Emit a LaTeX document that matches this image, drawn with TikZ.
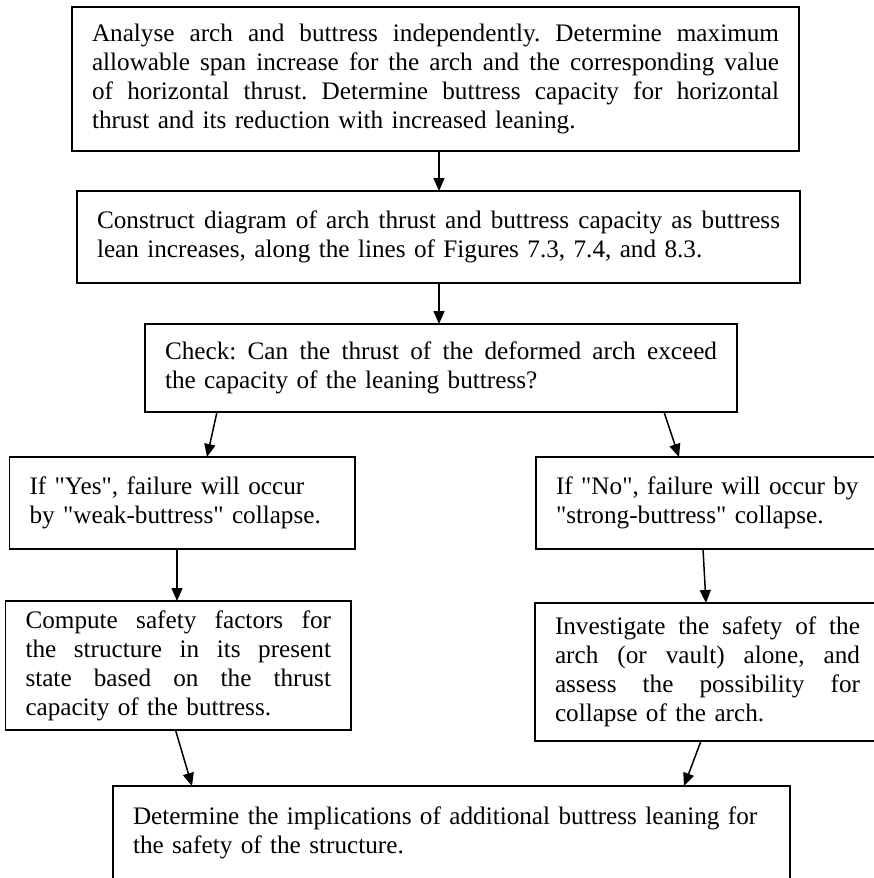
\documentclass[tikz,border=0pt]{standalone}
\usepackage{fontspec}
\setmainfont{Liberation Serif}[Ligatures=TeXOff]
\usetikzlibrary{arrows.meta}
\newcommand\jline[2]{\leavevmode\hbox to #1{\spaceskip=.25em plus 1fil\relax\xspaceskip=\spaceskip #2}}
\frenchspacing
\begin{document}
\begin{tikzpicture}[x=1pt,y=-1pt,
  box/.style={draw, line width=1.6pt, rectangle, anchor=north west, inner xsep=20pt,
    inner ysep=0pt, outer sep=0pt, align=left, font=\fontsize{25.2}{29}\selectfont\frenchspacing},
  arr/.style={line width=1.5pt, -{Triangle[length=13pt,width=11pt]}}]
\fill[white] (0,0) rectangle (874,878);
\useasboundingbox (0,0) rectangle (874,878);

\node[box, text width=687pt, minimum height=144pt] (b1) at (72,7)
  {\jline{687pt}{Analyse arch and buttress independently. Determine maximum}\\
   \jline{687pt}{allowable span increase for the arch and the corresponding value}\\
   \jline{687pt}{of horizontal thrust. Determine buttress capacity for horizontal}\\
   thrust and its reduction with increased leaning.};

\node[box, text width=683pt, minimum height=92pt] (b2) at (77,191)
  {\jline{683pt}{Construct diagram of arch thrust and buttress capacity as buttress}\\
   lean increases, along the lines of Figures 7.3, 7.4, and 8.3.};

\node[box, text width=552pt, minimum height=88pt] (b3) at (145,324)
  {\jline{552pt}{Check: Can the thrust of the deformed arch exceed}\\
   the capacity of the leaning buttress?};

\node[box, text width=305.5pt, minimum height=92pt] (b4) at (9.5,457)
  {\mbox{If "Yes", failure will occur}\\
   \mbox{by "weak-buttress" collapse.}};

\node[box, text width=305pt, minimum height=92pt] (b5) at (536,457)
  {\mbox{If "No", failure will occur by}\\
   \mbox{"strong-buttress" collapse.}};

\node[box, text width=305.5pt, minimum height=129pt] (b6) at (5.5,601)
  {\jline{305.5pt}{Compute safety factors for}\\
   \jline{305.5pt}{the structure in its present}\\
   \jline{305.5pt}{state based on the thrust}\\
   capacity of the buttress.};

\node[box, text width=305pt, minimum height=138pt] (b7) at (535,603)
  {\jline{305pt}{Investigate the safety of the}\\
   \jline{305pt}{arch (or vault) alone, and}\\
   \jline{305pt}{assess the possibility for}\\
   collapse of the arch.};

\node[box, text width=637pt, minimum height=118pt] (b8) at (113,786)
  {Determine the implications of additional buttress leaning for\\
   the safety of the structure.\\
   ~};

\draw[arr] ([xshift=367pt]b1.south west) -- ([xshift=362pt]b2.north west);
\draw[arr] ([xshift=362pt]b2.south west) -- ([xshift=294pt]b3.north west);
\draw[arr] ([xshift=72pt]b3.south west) -- ([xshift=197.5pt]b4.north west);
\draw[arr] ([xshift=519pt]b3.south west) -- ([xshift=143pt]b5.north west);
\draw[arr] ([xshift=167.5pt]b4.south west) -- ([xshift=171.5pt]b6.north west);
\draw[arr] ([xshift=167pt]b5.south west) -- ([xshift=171pt]b7.north west);
\draw[arr] ([xshift=170pt]b6.south west) -- ([xshift=79pt]b8.north west);
\draw[arr] ([xshift=166pt]b7.south west) -- ([xshift=571pt]b8.north west);
\end{tikzpicture}
\end{document}
